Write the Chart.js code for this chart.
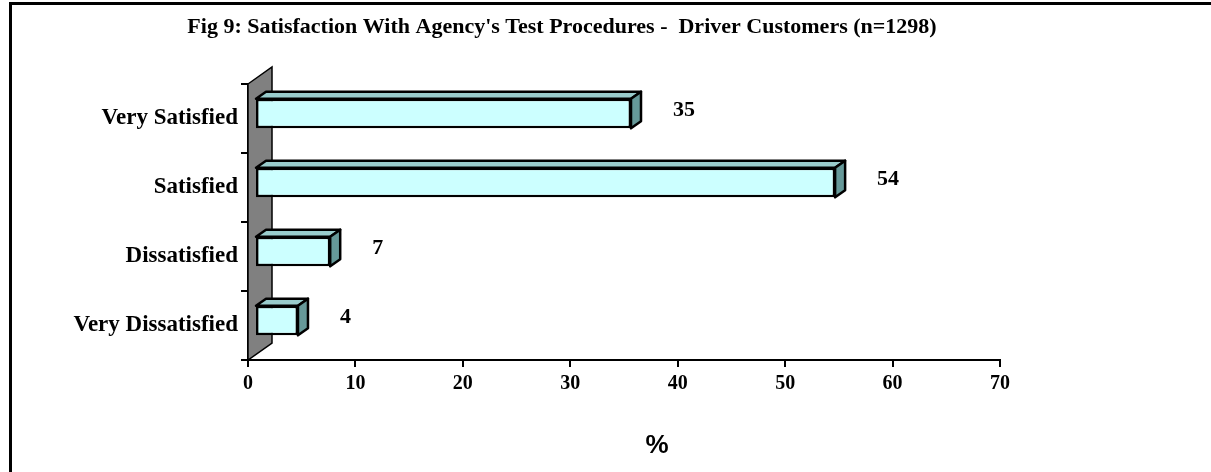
<!DOCTYPE html>
<html>
<head>
<meta charset="utf-8">
<script src="https://cdn.jsdelivr.net/npm/chart.js@4/dist/chart.umd.min.js"></script>
<style>
  html, body { margin: 0; padding: 0; background: #fff; }
  canvas { display: block; }
</style>
</head>
<body>
<canvas id="chart" width="1211" height="472"></canvas>
<script>
// данные графика
const categories = ["Very Satisfied", "Satisfied", "Dissatisfied", "Very Dissatisfied"];
const percents = [35, 54, 7, 4];
const xTicks = [0, 10, 20, 30, 40, 50, 60, 70];
const chartTitle = "Fig 9: Satisfaction With Agency's Test Procedures -  Driver Customers (n=1298)";
const axisTitle = "%";

const serif = "'Liberation Serif', 'Times New Roman', serif";

// смещение передней грани и глубина столбцов (псевдо-3D)
const shift = { x: 7, y: -5 };
const depth = { x: 10, y: -7 };

const depthPlugin = {
    id: "depth",
    beforeDraw(chart) {
        const ctx = chart.ctx;
        ctx.save();
        ctx.fillStyle = "#fff";
        ctx.fillRect(0, 0, chart.width, chart.height);
        // рамка
        ctx.fillStyle = "#000";
        ctx.fillRect(9, 2, chart.width - 9, 3);
        ctx.fillRect(9, 2, 3, chart.height);
        // заголовок
        ctx.font = "bold 22px " + serif;
        ctx.textAlign = "center";
        ctx.textBaseline = "middle";
        ctx.fillText(chartTitle, 562, 27);
        ctx.restore();
    },
    beforeDatasetsDraw(chart) {
        const ctx = chart.ctx;
        const a = chart.chartArea;
        // серая стенка
        ctx.save();
        ctx.beginPath();
        ctx.moveTo(a.left, a.top);
        ctx.lineTo(a.left + 24, a.top - 17);
        ctx.lineTo(a.left + 24, a.bottom - 17);
        ctx.lineTo(a.left, a.bottom);
        ctx.closePath();
        ctx.fillStyle = "#808080";
        ctx.fill();
        ctx.lineWidth = 1.5;
        ctx.strokeStyle = "#000";
        ctx.stroke();
        ctx.restore();
        ctx.save();
        ctx.translate(shift.x, shift.y);
    },
    afterDatasetsDraw(chart) {
        const ctx = chart.ctx;
        const meta = chart.getDatasetMeta(0);
        meta.data.forEach((bar) => {
            const left = bar.base, right = bar.x;
            const top = bar.y - bar.height / 2, bottom = bar.y + bar.height / 2;
            ctx.lineWidth = 2.5;
            ctx.lineJoin = "round";
            ctx.strokeStyle = "#000";
            // верхняя грань
            ctx.beginPath();
            ctx.moveTo(left, top);
            ctx.lineTo(left + depth.x, top + depth.y);
            ctx.lineTo(right + depth.x, top + depth.y);
            ctx.lineTo(right, top);
            ctx.closePath();
            ctx.fillStyle = "#99CCCC";
            ctx.fill();
            ctx.stroke();
            // боковая грань
            ctx.beginPath();
            ctx.moveTo(right, top);
            ctx.lineTo(right + depth.x, top + depth.y);
            ctx.lineTo(right + depth.x, bottom + depth.y);
            ctx.lineTo(right, bottom);
            ctx.closePath();
            ctx.fillStyle = "#669999";
            ctx.fill();
            ctx.stroke();
        });
        ctx.restore();
        // подписи значений
        ctx.save();
        ctx.font = "bold 22px " + serif;
        ctx.fillStyle = "#000";
        ctx.textAlign = "left";
        ctx.textBaseline = "middle";
        meta.data.forEach((bar, i) => {
            ctx.fillText(String(percents[i]), bar.x + shift.x + 42, bar.y + shift.y - 3);
        });
        // подпись оси
        ctx.font = "bold 26px 'Liberation Sans', Arial, sans-serif";
        ctx.textAlign = "center";
        ctx.fillText(axisTitle, 657, 446);
        ctx.restore();
    },
};

new Chart(document.getElementById("chart"), {
    type: "bar",
    data: {
        labels: categories,
        datasets: [
            {
                data: percents,
                backgroundColor: "#CCFFFF",
                borderColor: "#000",
                borderWidth: 2.5,
                borderSkipped: false,
                barPercentage: 0.43,
                categoryPercentage: 1,
            },
        ],
    },
    options: {
        indexAxis: "y",
        responsive: false,
        animation: false,
        layout: { padding: { left: 0, right: 211, top: 84, bottom: 0 } },
        plugins: {
            legend: { display: false },
            tooltip: { enabled: false },
        },
        scales: {
            x: {
                min: 0,
                max: 70,
                afterBuildTicks: (s) => { s.ticks = xTicks.map((v) => ({ value: v })); },
                afterFit: (s) => { s.height = 112; },
                grid: { drawOnChartArea: false, tickLength: 7, color: "#000", lineWidth: 2 },
                border: { color: "#000", width: 2 },
                ticks: {
                    color: "#000",
                    padding: 5,
                    maxRotation: 0,
                    font: { family: serif, size: 20, weight: "bold" },
                },
            },
            y: {
                afterFit: (s) => { s.width = 248; },
                grid: { offset: true, drawOnChartArea: false, tickLength: 7, color: "#000", lineWidth: 2 },
                border: { color: "#000", width: 2 },
                ticks: {
                    color: "#000",
                    padding: 3,
                    font: { family: serif, size: 23, weight: "bold" },
                },
            },
        },
    },
    plugins: [depthPlugin],
});
</script>
</body>
</html>
